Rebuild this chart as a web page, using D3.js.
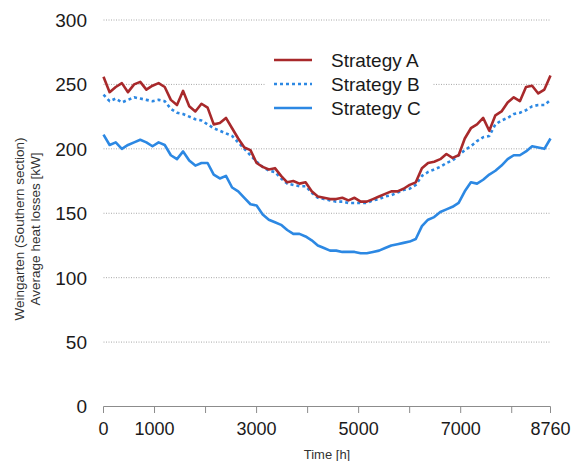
<!DOCTYPE html>
<html>
<head>
<meta charset="utf-8">
<script src="https://cdn.jsdelivr.net/npm/d3@7"></script>
<style>
  html, body { margin: 0; padding: 0; background: #fff; }
  svg { display: block; font-family: "Liberation Sans", Arial, Helvetica, sans-serif; }
</style>
</head>
<body>
<svg id="chart" width="576" height="461"></svg>
<script>
// Sample times (hours of the year)
const hours = [0,120,240,360,480,600,720,840,960,1080,1200,1320,1440,1560,1680,1800,1920,2040,2160,2280,
  2400,2520,2640,2760,2880,3000,3120,3240,3360,3480,3600,3720,3840,3960,4080,4200,4320,4440,4560,4680,
  4800,4920,5040,5160,5280,5400,5520,5640,5760,5880,6000,6120,6240,6360,6480,6600,6720,6840,6960,7080,
  7200,7320,7440,7560,7680,7800,7920,8040,8160,8280,8400,8520,8640,8760];

// Average heat losses [kW]
const strategyA = [256,244,248,251,244,250,252,246,249,251,248,238,234,245,233,229,235,232,219,220,
  224,216,208,201,199,189,186,184,185,179,174,175,173,174,167,163,162,161,161,162,
  160,162,159,159,161,163,165,167,167,169,172,174,185,189,190,192,196,193,195,208,
  216,219,224,214,226,229,236,240,237,248,249,243,246,257];
const strategyB = [242,237,239,236,238,240,239,238,237,238,237,231,228,227,225,223,222,219,216,214,
  212,210,205,200,195,190,186,183,182,177,173,172,171,171,166,162,161,160,159,159,
  158,158,158,158,160,161,163,164,166,168,169,172,179,182,184,186,189,191,195,199,
  202,206,209,210,219,222,224,227,228,230,233,234,234,238];
const strategyC = [211,203,205,200,203,205,207,205,202,205,203,195,192,198,191,187,189,189,180,177,
  179,170,167,162,157,156,149,145,143,141,137,134,134,132,129,125,123,121,121,120,
  120,120,119,119,120,121,123,125,126,127,128,130,140,145,147,151,153,155,158,167,
  174,173,176,180,183,187,192,195,195,198,202,201,200,208];

const yTicks = [0, 50, 100, 150, 200, 250, 300];
const xTickMarks = [0, 1000, 2000, 3000, 4000, 5000, 6000, 7000, 8000, 8760];
const xTickLabels = [0, 1000, 3000, 5000, 7000, 8760];
const seriesNames = ["Strategy A", "Strategy B", "Strategy C"];

const svg = d3.select("#chart");
const plotLeft = 103.5, plotRight = 550.5, plotTop = 20, plotBottom = 406.5;

const x = d3.scaleLinear().domain([0, 8760]).range([plotLeft, plotRight]);
const y = d3.scaleLinear().domain([0, 300]).range([plotBottom, plotTop]);

// Dotted horizontal grid
svg.append("g").selectAll("line")
  .data(yTicks.filter(d => d > 0))
  .join("line")
  .attr("x1", plotLeft).attr("x2", plotRight)
  .attr("y1", d => y(d)).attr("y2", d => y(d))
  .attr("stroke", "#a8a8a8").attr("stroke-width", 1)
  .attr("stroke-dasharray", "1,1.5");

// Y tick labels
svg.append("g").selectAll("text")
  .data(yTicks)
  .join("text")
  .attr("x", 87).attr("y", d => y(d))
  .attr("dy", "0.36em")
  .attr("text-anchor", "end")
  .attr("font-size", 19)
  .attr("fill", "#1a1a1a")
  .text(d => d);

// X axis line and ticks
const xAxis = svg.append("g");
xAxis.append("line")
  .attr("x1", plotLeft).attr("x2", plotRight)
  .attr("y1", plotBottom).attr("y2", plotBottom)
  .attr("stroke", "#8c8c8c").attr("stroke-width", 1);
xAxis.selectAll("line.tick")
  .data(xTickMarks)
  .join("line")
  .attr("class", "tick")
  .attr("x1", d => x(d)).attr("x2", d => x(d))
  .attr("y1", plotBottom).attr("y2", plotBottom + 6.5)
  .attr("stroke", "#8c8c8c").attr("stroke-width", 1);
xAxis.selectAll("text")
  .data(xTickLabels)
  .join("text")
  .attr("x", d => x(d)).attr("y", 434.5)
  .attr("text-anchor", "middle")
  .attr("font-size", 18)
  .attr("fill", "#1a1a1a")
  .text(d => d);

// Axis titles
svg.append("text")
  .attr("x", (plotLeft + plotRight) / 2).attr("y", 459)
  .attr("text-anchor", "middle")
  .attr("font-size", 13)
  .attr("fill", "#333")
  .text("Time [h]");

const yTitle = svg.append("g").attr("transform", "translate(0,229) rotate(-90)");
yTitle.append("text")
  .attr("x", 0).attr("y", 23.5)
  .attr("text-anchor", "middle")
  .attr("font-size", 13.5)
  .attr("fill", "#333")
  .text("Weingarten (Southern section)");
yTitle.append("text")
  .attr("x", 0).attr("y", 39.5)
  .attr("text-anchor", "middle")
  .attr("font-size", 13.5)
  .attr("fill", "#333")
  .text("Average heat losses [kW]");

// Series lines
const styles = [
  { color: "#a8292b", dash: null },
  { color: "#2c88e3", dash: "3,3" },
  { color: "#2c88e3", dash: null }
];
const seriesValues = [strategyA, strategyB, strategyC];
const line = d3.line().x((d, i) => x(hours[i])).y(d => y(d));

// draw C first, then B, then A on top
[2, 1, 0].forEach(k => {
  svg.append("path")
    .datum(seriesValues[k])
    .attr("d", line)
    .attr("fill", "none")
    .attr("stroke", styles[k].color)
    .attr("stroke-width", 2.6)
    .attr("stroke-linejoin", "round")
    .attr("stroke-dasharray", styles[k].dash);
});

// Legend
const legend = svg.append("g");
legend.append("rect")
  .attr("x", 265).attr("y", 47).attr("width", 167).attr("height", 74)
  .attr("fill", "#fff");
seriesNames.forEach((name, i) => {
  const ly = 60 + i * 24;
  legend.append("line")
    .attr("x1", 274).attr("x2", 312)
    .attr("y1", ly).attr("y2", ly)
    .attr("stroke", styles[i].color)
    .attr("stroke-width", 2.5)
    .attr("stroke-dasharray", styles[i].dash);
  legend.append("text")
    .attr("x", 331).attr("y", ly)
    .attr("dy", "0.36em")
    .attr("font-size", 19)
    .attr("fill", "#1a1a1a")
    .text(name);
});
</script>
</body>
</html>
